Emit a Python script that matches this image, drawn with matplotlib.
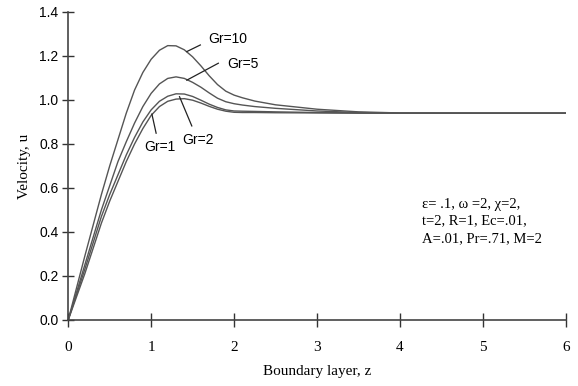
import matplotlib
matplotlib.use("Agg")
import matplotlib.pyplot as plt

# velocity profiles
z = [0, 0.2, 0.4, 0.5, 0.6, 0.7, 0.8, 0.9, 1.0, 1.1, 1.2, 1.3, 1.4, 1.5, 1.6, 1.7,
     1.8, 1.9, 2.0, 2.1, 2.25, 2.5, 3.0, 3.5, 4.0, 5.0, 6.0]
u_gr10 = [0, 0.29, 0.57, 0.70, 0.82, 0.94, 1.045, 1.125, 1.185, 1.226, 1.247, 1.246, 1.228,
          1.196, 1.155, 1.11, 1.07, 1.04, 1.022, 1.01, 0.995, 0.978, 0.958, 0.946, 0.941, 0.94, 0.94]
u_gr5 = [0, 0.25, 0.50, 0.61, 0.72, 0.81, 0.895, 0.97, 1.03, 1.073, 1.098, 1.105, 1.098,
         1.08, 1.058, 1.032, 1.008, 0.992, 0.983, 0.977, 0.97, 0.962, 0.95, 0.943, 0.94, 0.94, 0.94]
u_gr2 = [0, 0.23, 0.47, 0.57, 0.66, 0.75, 0.83, 0.90, 0.955, 0.994, 1.017, 1.028, 1.027,
         1.016, 0.999, 0.981, 0.966, 0.955, 0.95, 0.949, 0.948, 0.946, 0.943, 0.941, 0.94, 0.94, 0.94]
u_gr1 = [0, 0.21, 0.44, 0.54, 0.63, 0.72, 0.80, 0.87, 0.93, 0.97, 0.994, 1.004, 1.006,
         0.999, 0.986, 0.971, 0.958, 0.949, 0.944, 0.943, 0.943, 0.942, 0.941, 0.94, 0.94, 0.94, 0.94]

labels = ["Gr=10", "Gr=5", "Gr=2", "Gr=1"]
# label text position and leader line (from -> to), data coords
label_xy = [(1.69, 1.277), (1.92, 1.164), (1.38, 0.818), (0.915, 0.788)]
leaders = [((1.43, 1.22), (1.593, 1.25)),
           ((1.43, 1.09), (1.81, 1.167)),
           ((1.342, 1.015), (1.49, 0.882)),
           ((1.009, 0.936), (1.06, 0.849))]

params = ["\u03b5= .1, \u03c9 =2, \u03c7=2,", "t=2, R=1, Ec=.01,", "A=.01, Pr=.71, M=2"]
params_y = [0.527, 0.450, 0.368]

xticks = [0, 1, 2, 3, 4, 5, 6]
yticks = [0.0, 0.2, 0.4, 0.6, 0.8, 1.0, 1.2, 1.4]

serif = "Liberation Serif"
sans = "Liberation Sans"
line_col = "#555555"

fig = plt.figure(figsize=(5.78, 3.86), dpi=100)
ax = fig.add_axes([0.118, 0.171, 0.861, 0.798])

for u in [u_gr10, u_gr5, u_gr2, u_gr1]:
    ax.plot(z, u, color=line_col, lw=1.0)

for lab, (tx, ty), (p0, p1) in zip(labels, label_xy, leaders):
    ax.plot([p0[0], p1[0]], [p0[1], p1[1]], color="#222222", lw=0.9)
    ax.text(tx, ty, lab, family=sans, fontsize=10, va="center", ha="left")

for txt, py in zip(params, params_y):
    ax.text(4.27, py, txt, family=serif, fontsize=10.5, va="center")

ax.set_xlim(0, 6)
ax.set_ylim(0, 1.4)
ax.set_xticks(xticks)
ax.set_yticks(yticks)
ax.set_xticklabels([str(t) for t in xticks], family=serif, fontsize=11)
ax.set_yticklabels(["%.1f" % t for t in yticks], family=sans, fontsize=10)
ax.tick_params(axis="x", direction="inout", length=10, width=1, pad=10, color="#333333")
ax.tick_params(axis="y", direction="inout", length=8, width=1, pad=3, color="#333333")

for s in ["top", "right"]:
    ax.spines[s].set_visible(False)
for s in ["left", "bottom"]:
    ax.spines[s].set_color("#444444")
    ax.spines[s].set_linewidth(1.2)

ax.set_xlabel("Boundary layer, z", family=serif, fontsize=11, labelpad=8)
ax.set_ylabel("Velocity, u", family=serif, fontsize=11, labelpad=6)

fig.savefig("out.png", dpi=100)
